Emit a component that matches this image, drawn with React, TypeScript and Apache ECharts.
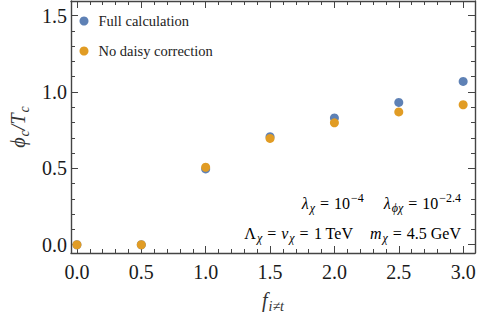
import React, { useEffect, useRef } from 'react';
import * as echarts from 'echarts';

// ---- data ----
const fValues = [0, 0.5, 1.0, 1.5, 2.0, 2.5, 3.0];
const fullCalculation = [0, 0, 0.496, 0.707, 0.83, 0.931, 1.069];
const noDaisyCorrection = [0, 0, 0.507, 0.696, 0.798, 0.869, 0.916];
const seriesNames = ['Full calculation', 'No daisy correction'];
const seriesColors = ['#5E81B5', '#E19C24'];
const xMajorTicks = [0, 0.5, 1.0, 1.5, 2.0, 2.5, 3.0];
const yMajorTicks = [0, 0.5, 1.0, 1.5];
const annotationLine1 = '{i|λ}{s|χ}{e|=}{n|10}{p|−4}{g| }{i|λ}{s|ϕχ}{e|=}{n|10}{p|−2.4}';
const annotationLine2 = '{n|Λ}{s|χ}{e|=}{i|v}{s|χ}{e|=}{n|1 TeV}{g| }{i|m}{s|χ}{e|=}{n|4.5 GeV}';
const xAxisName = '{i|f}{s|i≠t}';
const yAxisName = '{i|ϕ}{s|c}{i|/T}{s|c}';

const X_MIN = -0.046;
const X_MAX = 3.092;
const Y_MIN = -0.054;
const Y_MAX = 1.595;

const minorBetween = (majors: number[]) => {
  const out: number[] = [];
  for (let k = 0; k < majors.length - 1; k++) {
    const a = majors[k];
    const b = majors[k + 1];
    for (let j = 1; j < 5; j++) out.push(+(a + ((b - a) * j) / 5).toFixed(3));
  }
  return out;
};
const xMinorTicks = minorBetween(xMajorTicks);
const yMinorTicks = minorBetween(yMajorTicks);

const AX = '#444';
const FONT = 'Liberation Serif';

function makeAxis(
  kind: 'x' | 'y',
  position: string,
  ticks: number[],
  len: number,
  withLabels: boolean,
  withLine: boolean,
  extra: any = {}
) {
  return {
    type: 'value',
    gridIndex: 0,
    position,
    min: kind === 'x' ? X_MIN : Y_MIN,
    max: kind === 'x' ? X_MAX : Y_MAX,
    axisLine: { show: withLine, onZero: false, lineStyle: { color: AX, width: 1.4 } },
    axisTick: { show: true, inside: true, length: len, customValues: ticks, lineStyle: { color: AX, width: 1 } },
    axisLabel: withLabels
      ? {
          show: true,
          customValues: ticks,
          formatter: (v: number) => v.toFixed(1),
          color: '#1a1a1a',
          fontFamily: FONT,
          fontSize: 20,
          margin: kind === 'x' ? 9 : 4,
        }
      : { show: false },
    splitLine: { show: false },
    minorTick: { show: false },
    minorSplitLine: { show: false },
    ...extra,
  };
}

const richBase = (size: number, ratio = 0.72, gap = 16) => {
  const small = Math.round(size * ratio);
  return {
    n: { fontFamily: FONT, fontSize: size, color: '#333', lineHeight: size + 6 },
    i: { fontFamily: FONT, fontSize: size, fontStyle: 'italic', color: '#333', lineHeight: size + 6 },
    e: { fontFamily: FONT, fontSize: size, color: '#333', lineHeight: size + 6, padding: [0, 5, 0, 5] },
    g: { fontFamily: FONT, fontSize: size, color: '#333', lineHeight: size + 6, width: gap },
    s: {
      fontFamily: FONT,
      fontSize: small,
      fontStyle: 'italic',
      color: '#333',
      verticalAlign: 'bottom',
      lineHeight: small + 4,
      padding: [0, 0, 0, 1],
    },
    p: {
      fontFamily: FONT,
      fontSize: small,
      color: '#333',
      verticalAlign: 'top',
      lineHeight: small + 2,
      padding: [0, 0, 0, 1],
    },
  };
};

export default function App() {
  const ref = useRef<HTMLDivElement>(null);

  useEffect(() => {
    if (!ref.current) return;
    const chart = echarts.init(ref.current, undefined, { renderer: 'svg' });
    const nameRich = richBase(20);
    const option: any = {
      animation: false,
      backgroundColor: '#ffffff',
      textStyle: { fontFamily: FONT },
      grid: { left: 64, right: 4, top: 1, bottom: 62, containLabel: false },
      xAxis: [
        makeAxis('x', 'bottom', xMajorTicks, 7, true, true, {
          name: xAxisName,
          nameLocation: 'middle',
          nameGap: 34,
          nameTextStyle: { rich: nameRich },
        }),
        makeAxis('x', 'bottom', xMinorTicks, 4, false, false),
        makeAxis('x', 'top', xMajorTicks, 7, false, true),
        makeAxis('x', 'top', xMinorTicks, 4, false, false),
      ],
      yAxis: [
        makeAxis('y', 'left', yMajorTicks, 7, true, true, {
          name: yAxisName,
          nameLocation: 'middle',
          nameGap: 40,
          nameTextStyle: { rich: nameRich },
        }),
        makeAxis('y', 'left', yMinorTicks, 4, false, false),
        makeAxis('y', 'right', yMajorTicks, 7, false, true),
        makeAxis('y', 'right', yMinorTicks, 4, false, false),
      ],
      legend: {
        orient: 'vertical',
        left: 74.5,
        top: 8,
        itemWidth: 19,
        itemHeight: 9,
        itemGap: 14,
        icon: 'circle',
        data: seriesNames,
        textStyle: { fontFamily: FONT, fontSize: 14.5, color: '#222', lineHeight: 16 },
      },
      series: [
        {
          name: seriesNames[0],
          type: 'scatter',
          xAxisIndex: 0,
          yAxisIndex: 0,
          symbol: 'circle',
          symbolSize: 9,
          itemStyle: { color: seriesColors[0], opacity: 1 },
          data: fValues.map((f, k) => [f, fullCalculation[k]]),
        },
        {
          name: seriesNames[1],
          type: 'scatter',
          xAxisIndex: 0,
          yAxisIndex: 0,
          symbol: 'circle',
          symbolSize: 9,
          itemStyle: { color: seriesColors[1], opacity: 1 },
          data: fValues.map((f, k) => [f, noDaisyCorrection[k]]),
        },
      ],
      graphic: [
        {
          type: 'text',
          x: 461,
          y: 203,
          style: { text: annotationLine1, rich: richBase(16, 0.78, 20), align: 'right', verticalAlign: 'middle' },
        },
        {
          type: 'text',
          x: 461,
          y: 233,
          style: { text: annotationLine2, rich: richBase(16, 0.72, 17), align: 'right', verticalAlign: 'middle' },
        },
      ],
    };
    chart.setOption(option);
    return () => chart.dispose();
  }, []);

  return (
    <div
      ref={ref}
      style={{ position: 'fixed', left: 0, top: 0, width: 479, height: 318, background: '#fff' }}
    />
  );
}
